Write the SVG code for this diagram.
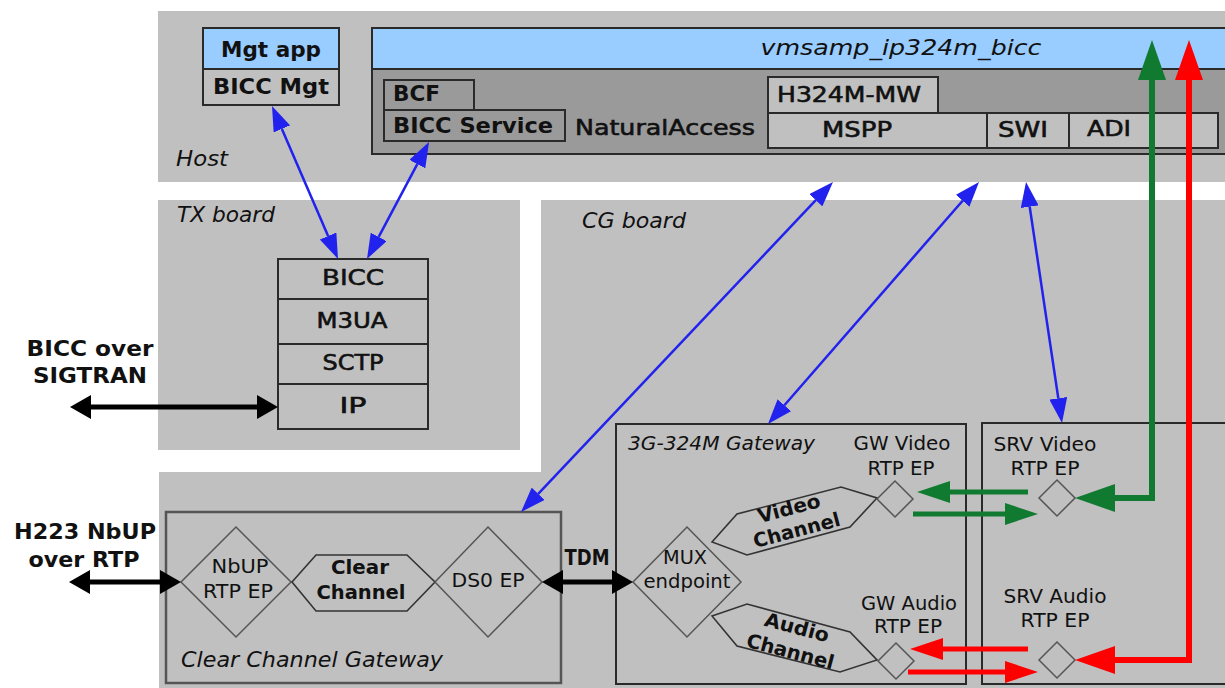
<svg xmlns="http://www.w3.org/2000/svg" width="1225" height="688" viewBox="0 0 1225 688">
<defs>
<style>
text{font-family:"DejaVu Sans","Verdana",sans-serif;fill:#111}
.b{font-weight:bold;font-size:21px}
.m{font-size:21px;stroke:#111;stroke-width:0.6}
.r{font-size:20px}
.i{font-style:italic;font-size:21px}
.panel{fill:#c0c0c0}
.box{stroke:#2a2a2a;stroke-width:2}
.lt{fill:#c0c0c0}
.dk{fill:#9a9a9a}
.bl{fill:#99ccff}
.dia{fill:none;stroke:#555;stroke-width:1.5}
.hex{fill:none;stroke:#333;stroke-width:1.6}
.gw{fill:none;stroke:#2a2a2a;stroke-width:2}
.blue{stroke:#2222ee;stroke-width:2.5;fill:none}
.blk{stroke:#000;stroke-width:5;fill:none}
.grn{stroke:#107a30;fill:none}
.red{stroke:#ff0000;fill:none}
</style>
<marker id="ab" markerUnits="userSpaceOnUse" markerWidth="25" markerHeight="18" viewBox="0 0 25 18" refX="0" refY="9" orient="auto-start-reverse"><path d="M0,0 L25,9 L0,18 z" fill="#2222ee"/></marker>
<marker id="ak" markerUnits="userSpaceOnUse" markerWidth="21" markerHeight="24" viewBox="0 0 21 24" refX="0" refY="12" orient="auto-start-reverse"><path d="M0,0 L21,12 L0,24 z" fill="#000"/></marker>
<marker id="ag" markerUnits="userSpaceOnUse" markerWidth="40" markerHeight="28" viewBox="0 0 40 28" refX="0" refY="14" orient="auto-start-reverse"><path d="M0,0 L40,14 L0,28 z" fill="#107a30"/></marker>
<marker id="ags" markerUnits="userSpaceOnUse" markerWidth="33" markerHeight="22" viewBox="0 0 33 22" refX="0" refY="11" orient="auto-start-reverse"><path d="M0,0 L33,11 L0,22 z" fill="#107a30"/></marker>
<marker id="ar" markerUnits="userSpaceOnUse" markerWidth="40" markerHeight="28" viewBox="0 0 40 28" refX="0" refY="14" orient="auto-start-reverse"><path d="M0,0 L40,14 L0,28 z" fill="#ff0000"/></marker>
<marker id="ars" markerUnits="userSpaceOnUse" markerWidth="33" markerHeight="22" viewBox="0 0 33 22" refX="0" refY="11" orient="auto-start-reverse"><path d="M0,0 L33,11 L0,22 z" fill="#ff0000"/></marker>
</defs>
<rect width="1225" height="688" fill="#fff"/>

<g id="host">
<rect class="panel" x="158" y="11" width="1067" height="171"/>
<text class="i" x="176" y="166" textLength="52" lengthAdjust="spacingAndGlyphs">Host</text>
</g>
<g id="tx-board">
<rect class="panel" x="158" y="200" width="362" height="250"/>
<text class="i" x="177" y="222" textLength="98" lengthAdjust="spacingAndGlyphs">TX board</text>
</g>
<g id="cg-board">
<path class="panel" d="M541,200 H1225 V688 H159 V472 H541 Z"/>
<text class="i" x="582" y="228" textLength="104" lengthAdjust="spacingAndGlyphs">CG board</text>
</g>

<g id="mgt-app">
<rect class="box bl" x="203" y="28" width="136" height="41"/>
<rect class="box lt" x="203" y="69" width="136" height="36"/>
<text class="b" x="271" y="57" text-anchor="middle" textLength="100" lengthAdjust="spacingAndGlyphs">Mgt app</text>
<text class="b" x="271" y="94" text-anchor="middle" textLength="116" lengthAdjust="spacingAndGlyphs">BICC Mgt</text>
</g>

<g id="vmsamp">
<rect class="box dk" x="372" y="69" width="870" height="85"/>
<rect class="box bl" x="372" y="28" width="870" height="41"/>
<text style="font-style:italic;font-size:22px" x="901" y="55" text-anchor="middle" textLength="281" lengthAdjust="spacingAndGlyphs">vmsamp_ip324m_bicc</text>
<text class="m" x="575" y="135" textLength="180" lengthAdjust="spacingAndGlyphs">NaturalAccess</text>
</g>
<g id="bcf">
<rect class="box dk" x="384" y="80" width="90" height="30"/>
<text class="b" x="393" y="101" textLength="47" lengthAdjust="spacingAndGlyphs">BCF</text>
</g>
<g id="bicc-service">
<rect class="box dk" x="384" y="110" width="181" height="31"/>
<text class="b" x="393" y="133" textLength="160" lengthAdjust="spacingAndGlyphs">BICC Service</text>
</g>
<g id="h324m-mw">
<rect class="box lt" x="768" y="77" width="170" height="36"/>
<text class="m" x="777" y="102" textLength="144" lengthAdjust="spacingAndGlyphs">H324M-MW</text>
</g>
<g id="mspp">
<rect class="box lt" x="768" y="113" width="219" height="35"/>
<text class="m" x="822" y="137" textLength="70" lengthAdjust="spacingAndGlyphs">MSPP</text>
</g>
<g id="swi">
<rect class="box lt" x="987" y="113" width="82" height="35"/>
<text class="m" x="998" y="137" textLength="50" lengthAdjust="spacingAndGlyphs">SWI</text>
</g>
<g id="adi">
<rect class="box lt" x="1069" y="113" width="149" height="35"/>
<text class="m" x="1087" y="136" textLength="44" lengthAdjust="spacingAndGlyphs">ADI</text>
</g>

<g id="tx-stack">
<rect class="box lt" x="278" y="259" width="150" height="40"/>
<rect class="box lt" x="278" y="299" width="150" height="45"/>
<rect class="box lt" x="278" y="344" width="150" height="40"/>
<rect class="box lt" x="278" y="384" width="150" height="45"/>
<text class="m" x="353" y="285" text-anchor="middle" textLength="62" lengthAdjust="spacingAndGlyphs">BICC</text>
<text class="m" x="352" y="328" text-anchor="middle" textLength="71" lengthAdjust="spacingAndGlyphs">M3UA</text>
<text class="m" x="353" y="370" text-anchor="middle" textLength="61" lengthAdjust="spacingAndGlyphs">SCTP</text>
<text class="m" x="353" y="413" text-anchor="middle" textLength="27" lengthAdjust="spacingAndGlyphs">IP</text>
</g>

<g id="bicc-sigtran-label">
<text class="b" style="font-size:22px" x="90" y="356" text-anchor="middle" textLength="127" lengthAdjust="spacingAndGlyphs">BICC over</text>
<text class="b" style="font-size:22px" x="90" y="383" text-anchor="middle" textLength="114" lengthAdjust="spacingAndGlyphs">SIGTRAN</text>
</g>
<g id="h223-label">
<text class="b" style="font-size:22px" x="85" y="539" text-anchor="middle" textLength="142" lengthAdjust="spacingAndGlyphs">H223 NbUP</text>
<text class="b" style="font-size:22px" x="84" y="567" text-anchor="middle" textLength="111" lengthAdjust="spacingAndGlyphs">over RTP</text>
</g>

<g id="clear-channel-gateway">
<rect x="166" y="512" width="395" height="171" fill="none" stroke="#555" stroke-width="2.5"/>
<text class="i" x="181" y="667" textLength="262" lengthAdjust="spacingAndGlyphs">Clear Channel Gateway</text>
</g>
<g id="nbup-rtp-ep">
<polygon class="dia" points="236,527 291,582 236,637 181,582"/>
<text class="r" x="240" y="573" text-anchor="middle" textLength="57" lengthAdjust="spacingAndGlyphs">NbUP</text>
<text class="r" x="238" y="598" text-anchor="middle" textLength="70" lengthAdjust="spacingAndGlyphs">RTP EP</text>
</g>
<g id="clear-channel">
<polygon class="hex" points="292,582 316,555 407,555 435,582 407,611 316,611"/>
<text class="b" style="font-size:19.5px" x="360" y="574" text-anchor="middle" textLength="58" lengthAdjust="spacingAndGlyphs">Clear</text>
<text class="b" style="font-size:19.5px" x="361" y="599" text-anchor="middle" textLength="89" lengthAdjust="spacingAndGlyphs">Channel</text>
</g>
<g id="ds0-ep">
<polygon class="dia" points="488,527 542,582 488,637 435,582"/>
<text class="r" x="488" y="587" text-anchor="middle" textLength="73" lengthAdjust="spacingAndGlyphs">DS0 EP</text>
</g>

<g id="gateway-3g324m">
<rect class="gw" x="616" y="424" width="350" height="260"/>
<text class="i" style="font-size:20px" x="628" y="450" textLength="187" lengthAdjust="spacingAndGlyphs">3G-324M Gateway</text>
</g>
<g id="mux-endpoint">
<polygon class="dia" points="687,527 741,582 687,637 633,582"/>
<text class="r" x="685" y="564" text-anchor="middle" textLength="44" lengthAdjust="spacingAndGlyphs">MUX</text>
<text class="r" x="687" y="588" text-anchor="middle" textLength="87" lengthAdjust="spacingAndGlyphs">endpoint</text>
</g>
<g id="video-channel">
<polygon class="hex" points="712,542 737,514 841,487 877,498 850,527 747,555"/>
<g transform="rotate(-14.8 795 520)">
<text class="b" style="font-size:19.5px" x="792" y="514" text-anchor="middle" textLength="64" lengthAdjust="spacingAndGlyphs">Video</text>
<text class="b" style="font-size:19.5px" x="794" y="537" text-anchor="middle" textLength="89" lengthAdjust="spacingAndGlyphs">Channel</text>
</g>
</g>
<g id="audio-channel">
<polygon class="hex" points="712,616 747,604 850,632 877,660 840,672 737,646"/>
<g transform="rotate(14.9 795 638)">
<text class="b" style="font-size:19.5px" x="794" y="634" text-anchor="middle" textLength="66" lengthAdjust="spacingAndGlyphs">Audio</text>
<text class="b" style="font-size:19.5px" x="794" y="659" text-anchor="middle" textLength="90" lengthAdjust="spacingAndGlyphs">Channel</text>
</g>
</g>
<g id="gw-video-rtp-ep">
<polygon class="dia" points="895,481 913,499 895,517 877,499"/>
<text class="r" x="902" y="450" text-anchor="middle" textLength="97" lengthAdjust="spacingAndGlyphs">GW Video</text>
<text class="r" x="901" y="475" text-anchor="middle" textLength="67" lengthAdjust="spacingAndGlyphs">RTP EP</text>
</g>
<g id="gw-audio-rtp-ep">
<polygon class="dia" points="896,643 914,661 896,679 878,661"/>
<text class="r" x="909" y="610" text-anchor="middle" textLength="96" lengthAdjust="spacingAndGlyphs">GW Audio</text>
<text class="r" x="908" y="633" text-anchor="middle" textLength="68" lengthAdjust="spacingAndGlyphs">RTP EP</text>
</g>

<g id="srv">
<path class="gw" d="M1226,423 H982 V684 H1226"/>
</g>
<g id="srv-video-rtp-ep">
<polygon class="dia" points="1057,480 1075,498 1057,516 1039,498"/>
<text class="r" x="1045" y="451" text-anchor="middle" textLength="103" lengthAdjust="spacingAndGlyphs">SRV Video</text>
<text class="r" x="1045" y="475" text-anchor="middle" textLength="69" lengthAdjust="spacingAndGlyphs">RTP EP</text>
</g>
<g id="srv-audio-rtp-ep">
<polygon class="dia" points="1057,642 1075,660 1057,678 1039,660"/>
<text class="r" x="1055" y="603" text-anchor="middle" textLength="103" lengthAdjust="spacingAndGlyphs">SRV Audio</text>
<text class="r" x="1055" y="627" text-anchor="middle" textLength="69" lengthAdjust="spacingAndGlyphs">RTP EP</text>
</g>

<g id="connectors">
<line class="blue" x1="281.9" y1="128.9" x2="328.1" y2="236" marker-start="url(#ab)" marker-end="url(#ab)"/>
<line class="blue" x1="417.3" y1="164.1" x2="378.7" y2="236.9" marker-start="url(#ab)" marker-end="url(#ab)"/>
<line class="blue" x1="815.8" y1="200.2" x2="538.2" y2="493.8" marker-start="url(#ab)" marker-end="url(#ab)"/>
<line class="blue" x1="962.6" y1="200.8" x2="784.4" y2="405.2" marker-start="url(#ab)" marker-end="url(#ab)"/>
<line class="blue" x1="1029.7" y1="206.7" x2="1058.3" y2="398.3" marker-start="url(#ab)" marker-end="url(#ab)"/>

<line class="blk" x1="91" y1="407" x2="257" y2="407" marker-start="url(#ak)" marker-end="url(#ak)"/>
<line class="blk" x1="90" y1="582" x2="160" y2="582" marker-start="url(#ak)" marker-end="url(#ak)"/>
<line class="blk" x1="563" y1="582" x2="612" y2="582" marker-start="url(#ak)" marker-end="url(#ak)"/>
<text class="b" x="587" y="565" text-anchor="middle" textLength="45" lengthAdjust="spacingAndGlyphs">TDM</text>

<polyline class="grn" stroke-width="6" points="1152,80 1152,498 1115,498" marker-start="url(#ag)" marker-end="url(#ag)"/>
<polyline class="red" stroke-width="6" points="1189,80 1189,660 1115,660" marker-start="url(#ar)" marker-end="url(#ar)"/>

<line class="grn" stroke-width="5" x1="1028" y1="492" x2="950" y2="492" marker-end="url(#ags)"/>
<line class="grn" stroke-width="5" x1="913" y1="514" x2="1005" y2="514" marker-end="url(#ags)"/>
<line class="red" stroke-width="5" x1="1028" y1="649" x2="943" y2="649" marker-end="url(#ars)"/>
<line class="red" stroke-width="5" x1="908" y1="672" x2="1005" y2="672" marker-end="url(#ars)"/>
</g>
</svg>
